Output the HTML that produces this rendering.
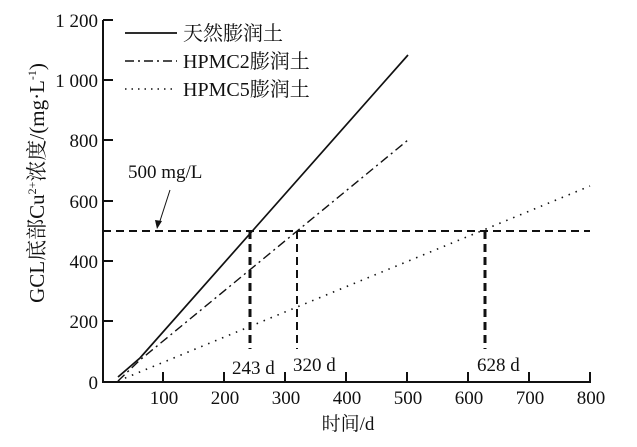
<!DOCTYPE html><html><head><meta charset="utf-8"><style>body{margin:0;background:#fff}</style></head><body>
<svg width="637" height="442" viewBox="0 0 637 442" xmlns="http://www.w3.org/2000/svg" font-family="Liberation Serif, Noto Serif CJK SC, serif" fill="#111">
<g stroke="#111" stroke-width="2" fill="none">
<line x1="103" y1="20" x2="103" y2="382"/><line x1="102" y1="382" x2="591" y2="382"/>
<line x1="103" y1="20" x2="113" y2="20"/><line x1="103" y1="80" x2="113" y2="80"/><line x1="103" y1="140" x2="113" y2="140"/><line x1="103" y1="201" x2="113" y2="201"/><line x1="103" y1="261" x2="113" y2="261"/><line x1="103" y1="321" x2="113" y2="321"/>
<line x1="163" y1="382" x2="163" y2="372"/><line x1="224" y1="382" x2="224" y2="372"/><line x1="285" y1="382" x2="285" y2="372"/><line x1="346" y1="382" x2="346" y2="372"/><line x1="407" y1="382" x2="407" y2="372"/><line x1="468" y1="382" x2="468" y2="372"/><line x1="529" y1="382" x2="529" y2="372"/><line x1="590" y1="382" x2="590" y2="372"/>
</g>
<g fill="none" stroke="#111">
<polyline stroke-width="1.7" points="118,377 140,358 408,55"/>
<polyline stroke-width="1.4" stroke-dasharray="9,4,2,4" points="118,381 140,360 408,140"/>
<polyline stroke-width="1.6" stroke-dasharray="1.5,6" points="118,381 590,186"/>
<line x1="103" y1="231" x2="590" y2="231" stroke-width="2" stroke-dasharray="8,5"/>
<line x1="250" y1="231" x2="250" y2="349" stroke-width="3" stroke-dasharray="8,5"/>
<line x1="297" y1="231" x2="297" y2="349" stroke-width="2" stroke-dasharray="8,5"/>
<line x1="485" y1="231" x2="485" y2="349" stroke-width="3" stroke-dasharray="8,5"/>
<line x1="125" y1="33" x2="177" y2="33" stroke-width="1.7"/>
<line x1="125" y1="61" x2="177" y2="61" stroke-width="1.4" stroke-dasharray="9,4,2,4"/>
<line x1="125" y1="89" x2="177" y2="89" stroke-width="1.6" stroke-dasharray="1.5,5"/>
<line x1="170" y1="190" x2="159" y2="224" stroke-width="1"/>
</g>
<polygon points="157,229 155,220 162,221"/>
<g font-size="20">
<text x="183" y="40">天然膨润土</text><text x="183" y="68">HPMC2膨润土</text><text x="183" y="96">HPMC5膨润土</text>
</g>
<g font-size="19">
<text x="128" y="178">500 mg/L</text>
<text x="232" y="374">243 d</text><text x="293" y="371">320 d</text><text x="477" y="371">628 d</text>
</g>
<g font-size="19" text-anchor="end">
<text x="98" y="27">1 200</text><text x="98" y="87">1 000</text><text x="98" y="147">800</text><text x="98" y="208">600</text><text x="98" y="268">400</text><text x="98" y="328">200</text><text x="98" y="389">0</text>
</g>
<g font-size="19" text-anchor="middle">
<text x="164" y="404">100</text><text x="225" y="404">200</text><text x="286" y="404">300</text><text x="347" y="404">400</text><text x="408" y="404">500</text><text x="469" y="404">600</text><text x="530" y="404">700</text><text x="591" y="404">800</text>
<text x="348" y="430">时间/d</text>
</g>
<text transform="translate(44,183) rotate(-90)" font-size="21" text-anchor="middle">GCL底部Cu<tspan font-size="12" dy="-8">2+</tspan><tspan dy="8">浓度/(mg·L</tspan><tspan font-size="12" dy="-8">-1</tspan><tspan dy="8">)</tspan></text>
</svg>
</body></html>
